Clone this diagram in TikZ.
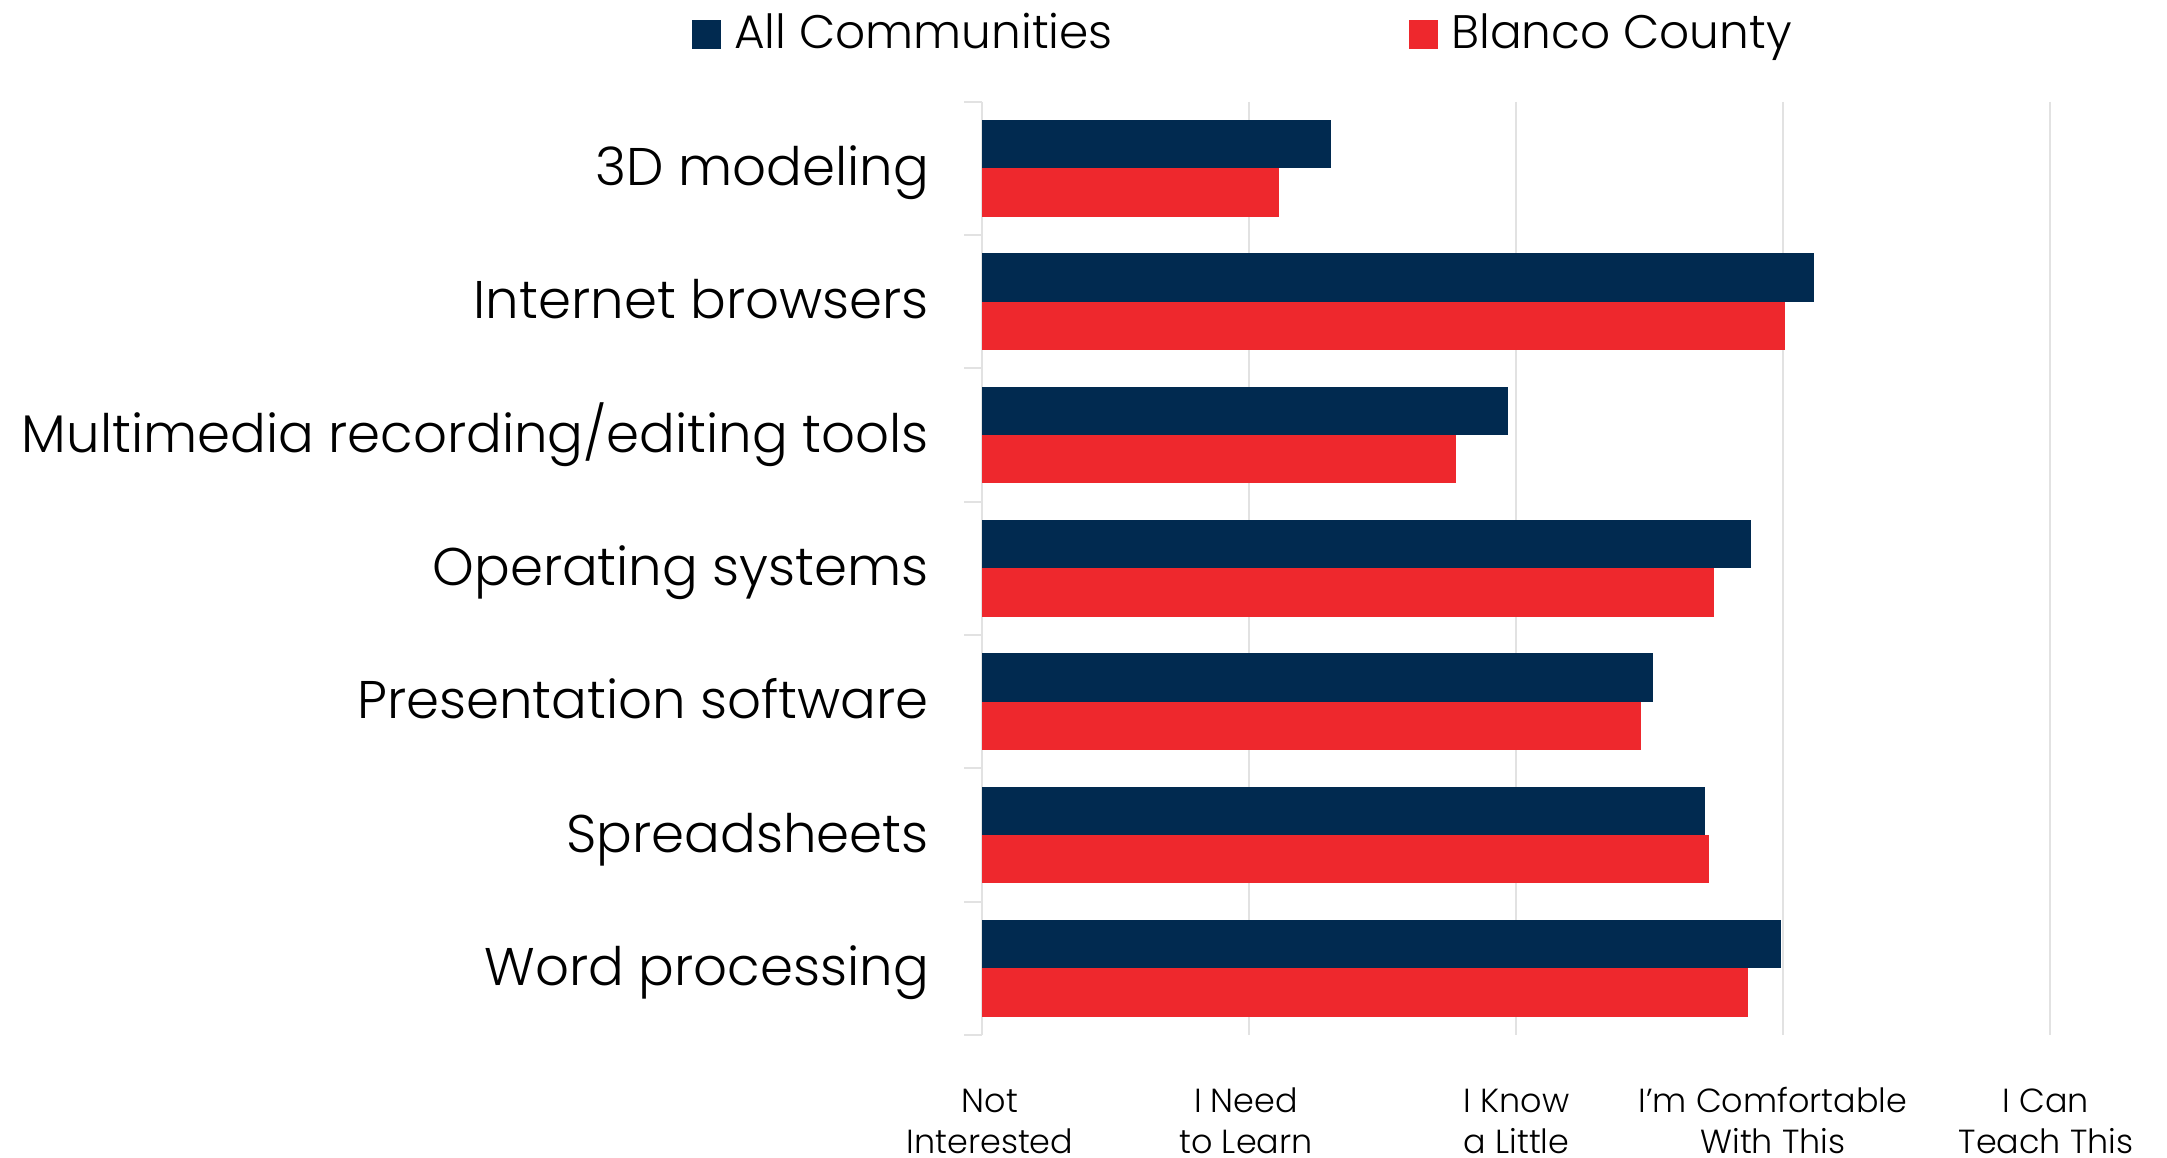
\documentclass[tikz,border=0pt]{standalone}
\usepackage{fontspec}
\setmainfont{Poppins}[UprightFont=* Light]
\definecolor{navy}{HTML}{012A50}
\definecolor{cred}{HTML}{EE282D}
\definecolor{gridc}{HTML}{E2E2E2}
\tikzset{
  gridline/.style={draw=gridc, line width=2pt},
  catlabel/.style={anchor=base east, inner sep=0pt, font=\fontsize{53}{60}\selectfont},
  leglabel/.style={anchor=base west, inner sep=0pt, font=\fontsize{47}{56}\selectfont},
  axlabel/.style={anchor=base, inner sep=0pt, align=center, font=\fontsize{33.4}{41.3}\selectfont},
  navybar/.style={fill=navy},
  redbar/.style={fill=cred}
}
\begin{document}
\begin{tikzpicture}[x=1pt,y=-1pt]
\useasboundingbox (0,0) rectangle (2167,1157);
% grid
\foreach \x in {1249,1516,1783,2050} \draw[gridline] (\x,101.7) -- (\x,1035);
\draw[gridline] (982,101.7) -- (982,1035);
\foreach \k in {0,...,7} \draw[gridline] (964,101.7+133.333*\k) -- (982,101.7+133.333*\k);
% bars
\foreach \i/\a/\b in {0/1330.7/1279.3, 1/1814.3/1785.3, 2/1508/1456.3, 3/1751.3/1714.3, 4/1652.7/1640.7, 5/1705/1709, 6/1780.7/1748} {
  \pgfmathsetmacro\t{101.7+133.333*\i}
  \path[navybar] (982,\t+18.3) rectangle (\a,\t+66.7);
  \path[redbar] (982,\t+66.7) rectangle (\b,\t+115);
}
% category labels
\node[catlabel] (c1) at (929,185.3) {3D modeling};
\node[catlabel] (c2) at (929,318.7) {Internet browsers};
\node[catlabel] (c3) at (929,452) {Multimedia recording/editing tools};
\node[catlabel] (c4) at (929,585.3) {Operating systems};
\node[catlabel] (c5) at (929,718.7) {Presentation software};
\node[catlabel] (c6) at (929,852) {Spreadsheets};
\node[catlabel] (c7) at (929,985.3) {Word processing};
% legend
\path[navybar] (692,20) rectangle (721,49);
\node[leglabel] (l1) at (734,48.3) {All Communities};
\path[redbar] (1409,20) rectangle (1438,49);
\node[leglabel] (l2) at (1451,48.3) {Blanco County};
% axis labels (anchor = baseline of last line)
\node[axlabel] (a1) at (990,1153.6) {Not\\Interested};
\node[axlabel] (a2) at (1246,1153.6) {I Need\\to Learn};
\node[axlabel] (a3) at (1516.5,1153.6) {I Know\\a Little};
\node[axlabel] (a4) at (1773,1153.6) {I’m Comfortable\\With This};
\node[axlabel] (a5) at (2046,1153.6) {I Can\\Teach This};
\end{tikzpicture}
\end{document}
